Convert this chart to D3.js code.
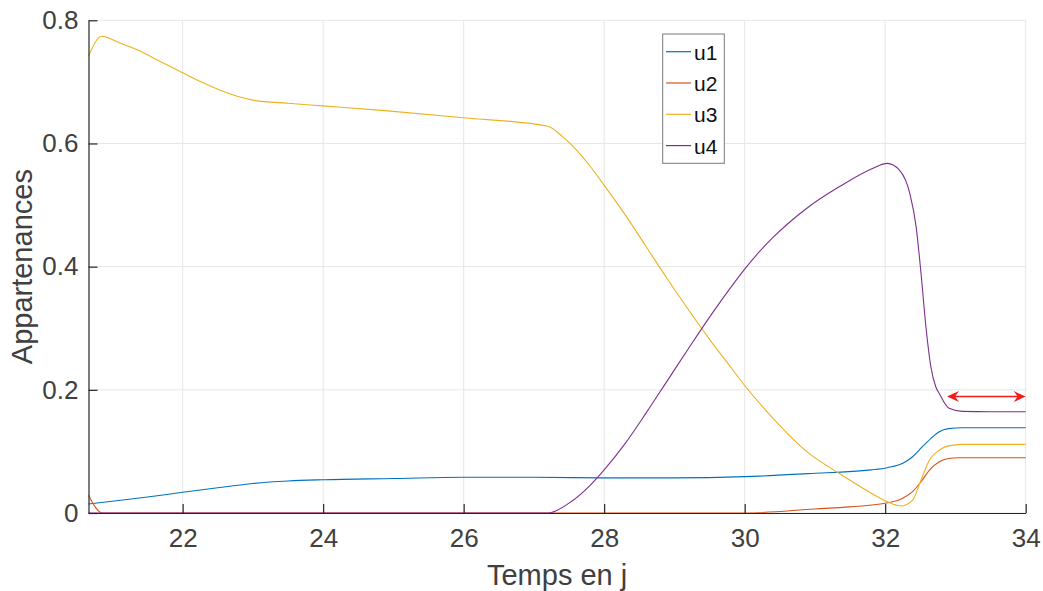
<!DOCTYPE html>
<html>
<head>
<meta charset="utf-8">
<script src="https://cdn.jsdelivr.net/npm/d3@7"></script>
<style>
  html, body { margin: 0; padding: 0; background: #fff; }
  svg { display: block; font-family: "Liberation Sans", Arial, Helvetica, sans-serif; }
</style>
</head>
<body>
<svg id="chart" width="1043" height="591"></svg>
<script>
// ---- data ----
const xTicks = [22, 24, 26, 28, 30, 32, 34];
const yTicks = [0, 0.2, 0.4, 0.6, 0.8];
const yTickLabels = ["0", "0.2", "0.4", "0.6", "0.8"];
const seriesNames = ["u1", "u2", "u3", "u4"];
const seriesColors = ["#0072BD", "#D95319", "#EDB120", "#7E2F8E"];

const t1 = [20.66, 21, 21.5, 22, 22.5, 23, 23.5, 24, 25, 26, 27, 28, 29, 30, 30.9, 31.8, 32.03, 32.25, 32.39, 32.53, 32.68, 32.77, 32.9, 33.1, 33.5, 34];
const u1 = [0.0146, 0.019, 0.026, 0.0336, 0.041, 0.048, 0.052, 0.054, 0.056, 0.058, 0.058, 0.057, 0.057, 0.059, 0.064, 0.070, 0.0736, 0.0806, 0.0914, 0.1076, 0.124, 0.132, 0.137, 0.1385, 0.1385, 0.1385];

const t2 = [20.66, 20.86, 25, 30, 31, 31.5, 32, 32.25, 32.39, 32.51, 32.63, 32.77, 32.9, 33.05, 33.3, 34];
const u2 = [0.029, 0, 0, 0, 0.0065, 0.010, 0.0157, 0.0238, 0.0346, 0.0508, 0.0698, 0.0833, 0.0885, 0.0898, 0.0898, 0.0898];

const t3 = [20.66, 20.85, 21.1, 21.36, 21.7, 22, 22.3, 22.55, 22.8, 23.02, 23.5, 24, 24.92, 26, 27.2, 27.4, 27.6, 27.8, 28, 28.3, 28.6, 28.9, 29.2, 29.5, 29.8, 30, 30.26, 30.5, 30.88, 31.35, 31.82, 32.03, 32.22, 32.39, 32.51, 32.63, 32.77, 32.9, 33.1, 33.5, 34];
const u3 = [0.742, 0.774, 0.7635, 0.7516, 0.732, 0.7148, 0.698, 0.6856, 0.676, 0.670, 0.6652, 0.661, 0.653, 0.6417, 0.628, 0.612, 0.590, 0.563, 0.532, 0.484, 0.432, 0.380, 0.330, 0.282, 0.237, 0.207, 0.172, 0.142, 0.100, 0.064, 0.031, 0.0184, 0.0114, 0.021, 0.0536, 0.086, 0.102, 0.109, 0.1115, 0.1115, 0.1115];

const t4 = [20.66, 27.2, 27.5, 27.8, 28, 28.3, 28.6, 28.9, 29.2, 29.5, 29.8, 30, 30.2, 30.4, 30.88, 31.35, 31.82, 32.03, 32.2, 32.35, 32.44, 32.51, 32.58, 32.65, 32.72, 32.77, 32.91, 33.1, 33.5, 34];
const u4 = [0, 0, 0.016, 0.045, 0.07, 0.113, 0.163, 0.215, 0.267, 0.318, 0.366, 0.396, 0.423, 0.447, 0.4945, 0.53, 0.5595, 0.5677, 0.557, 0.519, 0.465, 0.389, 0.302, 0.2375, 0.205, 0.194, 0.170, 0.165, 0.1645, 0.1645];

const arrowX = [32.88, 34];
const arrowY = 0.189;

// ---- layout ----
const svg = d3.select("#chart");
const L = 88.5, R = 1025.7, T = 20.3, B = 513;
const x = d3.scaleLinear().domain([20.66, 34]).range([L, R]);
const y = d3.scaleLinear().domain([0, 0.8]).range([B, T]);

const axisColor = "#262626";
const textColor = "#404040";

// grid
const grid = svg.append("g");
grid.selectAll("line.vx").data(xTicks).join("line")
  .attr("x1", d => x(d)).attr("x2", d => x(d)).attr("y1", T).attr("y2", B)
  .attr("stroke", "#e6e6e6").attr("stroke-width", 1);
grid.selectAll("line.hy").data(yTicks).join("line")
  .attr("x1", L).attr("x2", R).attr("y1", d => y(d)).attr("y2", d => y(d))
  .attr("stroke", "#e6e6e6").attr("stroke-width", 1);

// series
const series = [[t1, u1], [t2, u2], [t3, u3], [t4, u4]];
const line = d3.line().x(d => x(d[0])).y(d => y(d[1])).curve(d3.curveMonotoneX);
series.forEach((s, i) => {
  const pts = s[0].map((t, j) => [t, s[1][j]]);
  svg.append("path").datum(pts)
    .attr("d", line).attr("fill", "none")
    .attr("stroke", seriesColors[i]).attr("stroke-width", 1.1);
});

// axes
const xAxis = d3.axisBottom(x).tickValues(xTicks).tickSizeInner(-9).tickSizeOuter(0).tickPadding(16)
  .tickFormat(d3.format("d"));
const gx = svg.append("g").attr("transform", `translate(0,${B})`).call(xAxis);
const yAxis = d3.axisLeft(y).tickValues(yTicks).tickSizeInner(-9).tickSizeOuter(0).tickPadding(10)
  .tickFormat((d, i) => yTickLabels[i]);
const gy = svg.append("g").attr("transform", `translate(${L},0)`).call(yAxis);
[gx, gy].forEach(g => {
  g.select(".domain").attr("stroke", axisColor).attr("stroke-width", 1.2);
  g.selectAll(".tick line").attr("stroke", axisColor).attr("stroke-width", 1.2);
  g.selectAll(".tick text").attr("fill", textColor).attr("font-size", 26)
    .attr("font-family", "'Liberation Sans', Arial, Helvetica, sans-serif");
});

// axis labels
svg.append("text").attr("x", (L + R) / 2).attr("y", 585).attr("text-anchor", "middle")
  .attr("font-size", 29).attr("fill", textColor).text("Temps en j");
svg.append("text").attr("transform", `translate(32,${(T + B) / 2}) rotate(-90)`)
  .attr("text-anchor", "middle").attr("font-size", 29).attr("fill", textColor).text("Appartenances");

// legend
const lg = svg.append("g");
lg.append("rect").attr("x", 662.7).attr("y", 34).attr("width", 61.6).attr("height", 129.3)
  .attr("fill", "#fff").attr("stroke", "#7a7a7a").attr("stroke-width", 1);
seriesNames.forEach((n, i) => {
  const cy = 51.7 + i * 31.3;
  lg.append("line").attr("x1", 666).attr("x2", 691).attr("y1", cy).attr("y2", cy)
    .attr("stroke", seriesColors[i]).attr("stroke-width", 1.2);
  lg.append("text").attr("x", 694).attr("y", cy + 8).attr("font-size", 21)
    .attr("fill", "#111").text(n);
});

// double arrow annotation
const ax1 = x(arrowX[0]), ax2 = x(arrowX[1]), ay = y(arrowY);
const red = "#f21c1c";
svg.append("line").attr("x1", ax1 + 4).attr("x2", ax2 - 4).attr("y1", ay).attr("y2", ay)
  .attr("stroke", red).attr("stroke-width", 1.5);
const hl = 12, hw = 5.5, back = 4;
svg.append("path")
  .attr("d", `M${ax1},${ay} L${ax1 + hl},${ay - hw} L${ax1 + hl - back},${ay} L${ax1 + hl},${ay + hw} Z`)
  .attr("fill", red);
svg.append("path")
  .attr("d", `M${ax2},${ay} L${ax2 - hl},${ay - hw} L${ax2 - hl + back},${ay} L${ax2 - hl},${ay + hw} Z`)
  .attr("fill", red);
</script>
</body>
</html>
